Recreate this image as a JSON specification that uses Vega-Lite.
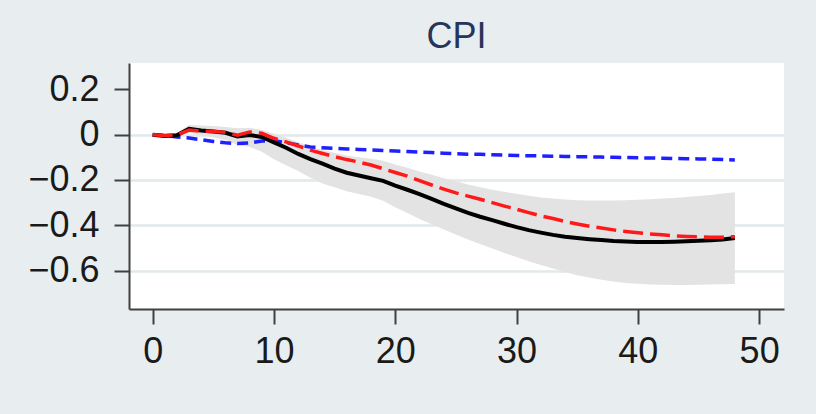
{
  "$schema": "https://vega.github.io/schema/vega-lite/v6.json",
  "width": 655,
  "height": 246,
  "autosize": {"type": "none"},
  "padding": {"left": 129, "top": 63, "right": 32, "bottom": 105},
  "background": "#e8eef0",
  "title": {
    "text": "CPI",
    "fontSize": 36,
    "font": "Liberation Sans",
    "fontWeight": "normal",
    "color": "#27355a",
    "anchor": "middle",
    "frame": "group",
    "baseline": "alphabetic",
    "offset": 15,
    "dy": 36
  },
  "config": {
    "view": {"stroke": null, "fill": "white"},
    "axis": {
      "labelFont": "Liberation Sans",
      "labelFontSize": 36,
      "labelColor": "#1a1a1a",
      "domainColor": "#404040",
      "domainWidth": 2,
      "tickColor": "#404040",
      "tickWidth": 2,
      "tickSize": 15,
      "title": null
    }
  },
  "data": {
    "values": [
      {"h": 0, "est": 0, "lo": 0, "hi": 0, "alt": 0, "base": 0},
      {"h": 1, "est": -0.006, "lo": -0.012, "hi": 0.002, "alt": -0.004, "base": -0.004},
      {"h": 2, "est": -0.003, "lo": -0.014, "hi": 0.01, "alt": -0.001, "base": -0.01},
      {"h": 3, "est": 0.026, "lo": 0.008, "hi": 0.042, "alt": 0.02, "base": -0.015},
      {"h": 4, "est": 0.018, "lo": -0.002, "hi": 0.04, "alt": 0.015, "base": -0.022},
      {"h": 5, "est": 0.014, "lo": -0.012, "hi": 0.038, "alt": 0.014, "base": -0.03},
      {"h": 6, "est": 0.008, "lo": -0.024, "hi": 0.034, "alt": 0.01, "base": -0.036},
      {"h": 7, "est": -0.008, "lo": -0.046, "hi": 0.028, "alt": -0.002, "base": -0.039},
      {"h": 8, "est": -0.002, "lo": -0.055, "hi": 0.03, "alt": 0.012, "base": -0.036},
      {"h": 9, "est": -0.01, "lo": -0.075, "hi": 0.02, "alt": 0.006, "base": -0.028},
      {"h": 10, "est": -0.034, "lo": -0.108, "hi": 0.004, "alt": -0.016, "base": -0.027},
      {"h": 11, "est": -0.058, "lo": -0.135, "hi": -0.014, "alt": -0.032, "base": -0.035},
      {"h": 12, "est": -0.085, "lo": -0.16, "hi": -0.033, "alt": -0.05, "base": -0.045},
      {"h": 13, "est": -0.108, "lo": -0.19, "hi": -0.053, "alt": -0.068, "base": -0.054},
      {"h": 14, "est": -0.128, "lo": -0.215, "hi": -0.068, "alt": -0.083, "base": -0.058},
      {"h": 15, "est": -0.15, "lo": -0.232, "hi": -0.08, "alt": -0.097, "base": -0.061},
      {"h": 16, "est": -0.168, "lo": -0.25, "hi": -0.092, "alt": -0.11, "base": -0.063},
      {"h": 17, "est": -0.18, "lo": -0.262, "hi": -0.1, "alt": -0.121, "base": -0.065},
      {"h": 18, "est": -0.192, "lo": -0.274, "hi": -0.106, "alt": -0.134, "base": -0.067},
      {"h": 19, "est": -0.204, "lo": -0.292, "hi": -0.115, "alt": -0.15, "base": -0.07},
      {"h": 20, "est": -0.225, "lo": -0.32, "hi": -0.132, "alt": -0.167, "base": -0.072},
      {"h": 21, "est": -0.243, "lo": -0.346, "hi": -0.146, "alt": -0.183, "base": -0.074},
      {"h": 22, "est": -0.262, "lo": -0.372, "hi": -0.162, "alt": -0.203, "base": -0.077},
      {"h": 23, "est": -0.283, "lo": -0.395, "hi": -0.177, "alt": -0.222, "base": -0.079},
      {"h": 24, "est": -0.305, "lo": -0.418, "hi": -0.192, "alt": -0.24, "base": -0.082},
      {"h": 25, "est": -0.325, "lo": -0.44, "hi": -0.206, "alt": -0.257, "base": -0.084},
      {"h": 26, "est": -0.345, "lo": -0.462, "hi": -0.22, "alt": -0.271, "base": -0.086},
      {"h": 27, "est": -0.362, "lo": -0.482, "hi": -0.232, "alt": -0.285, "base": -0.087},
      {"h": 28, "est": -0.377, "lo": -0.502, "hi": -0.243, "alt": -0.3, "base": -0.089},
      {"h": 29, "est": -0.393, "lo": -0.522, "hi": -0.252, "alt": -0.315, "base": -0.09},
      {"h": 30, "est": -0.408, "lo": -0.54, "hi": -0.261, "alt": -0.329, "base": -0.092},
      {"h": 31, "est": -0.421, "lo": -0.558, "hi": -0.27, "alt": -0.344, "base": -0.093},
      {"h": 32, "est": -0.432, "lo": -0.575, "hi": -0.277, "alt": -0.358, "base": -0.094},
      {"h": 33, "est": -0.442, "lo": -0.59, "hi": -0.282, "alt": -0.37, "base": -0.095},
      {"h": 34, "est": -0.45, "lo": -0.606, "hi": -0.286, "alt": -0.383, "base": -0.096},
      {"h": 35, "est": -0.456, "lo": -0.62, "hi": -0.289, "alt": -0.394, "base": -0.097},
      {"h": 36, "est": -0.461, "lo": -0.63, "hi": -0.29, "alt": -0.404, "base": -0.098},
      {"h": 37, "est": -0.465, "lo": -0.64, "hi": -0.291, "alt": -0.412, "base": -0.099},
      {"h": 38, "est": -0.469, "lo": -0.648, "hi": -0.29, "alt": -0.42, "base": -0.1},
      {"h": 39, "est": -0.471, "lo": -0.654, "hi": -0.289, "alt": -0.427, "base": -0.101},
      {"h": 40, "est": -0.473, "lo": -0.658, "hi": -0.287, "alt": -0.433, "base": -0.102},
      {"h": 41, "est": -0.473, "lo": -0.661, "hi": -0.285, "alt": -0.438, "base": -0.103},
      {"h": 42, "est": -0.473, "lo": -0.662, "hi": -0.282, "alt": -0.442, "base": -0.104},
      {"h": 43, "est": -0.472, "lo": -0.663, "hi": -0.279, "alt": -0.446, "base": -0.105},
      {"h": 44, "est": -0.47, "lo": -0.663, "hi": -0.275, "alt": -0.449, "base": -0.106},
      {"h": 45, "est": -0.468, "lo": -0.662, "hi": -0.271, "alt": -0.451, "base": -0.107},
      {"h": 46, "est": -0.466, "lo": -0.661, "hi": -0.266, "alt": -0.453, "base": -0.108},
      {"h": 47, "est": -0.462, "lo": -0.66, "hi": -0.26, "alt": -0.452, "base": -0.11},
      {"h": 48, "est": -0.456, "lo": -0.659, "hi": -0.254, "alt": -0.45, "base": -0.112}
    ]
  },
  "encoding": {
    "x": {
      "field": "h",
      "type": "quantitative",
      "scale": {"domain": [-1.95, 52.05], "nice": false, "zero": false},
      "axis": {
        "values": [0, 10, 20, 30, 40, 50],
        "grid": false,
        "labelPadding": 10,
        "format": "d"
      }
    }
  },
  "layer": [
    {
      "mark": {"type": "area", "color": "#e3e3e3", "opacity": 1},
      "encoding": {
        "y": {
          "field": "lo",
          "type": "quantitative",
          "scale": {"domain": [-0.769, 0.316], "nice": false, "zero": false},
          "axis": {
            "values": [-0.6, -0.4, -0.2, 0, 0.2],
            "format": "~g",
            "labelPadding": 15,
            "grid": true,
            "gridColor": "#e0e9eb",
            "gridWidth": 2.5,
            "gridOpacity": {"condition": {"test": "datum.value > 0.1", "value": 0}, "value": 1}
          }
        },
        "y2": {"field": "hi"}
      }
    },
    {
      "mark": {"type": "line", "color": "#2020ff", "strokeWidth": 3.5, "strokeDash": [11, 6]},
      "encoding": {"y": {"field": "base", "type": "quantitative"}}
    },
    {
      "mark": {"type": "line", "color": "#000000", "strokeWidth": 4},
      "encoding": {"y": {"field": "est", "type": "quantitative"}}
    },
    {
      "mark": {"type": "line", "color": "#ff1a1a", "strokeWidth": 3.5, "strokeDash": [20, 7]},
      "encoding": {"y": {"field": "alt", "type": "quantitative"}}
    }
  ]
}
